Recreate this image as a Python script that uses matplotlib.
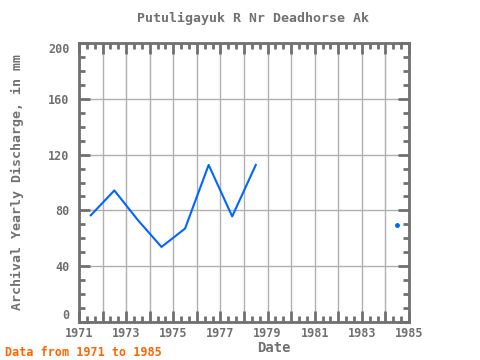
import matplotlib as mlt
mlt.use("Agg")
import matplotlib.pyplot as plt
import numpy as np
from matplotlib.ticker import MultipleLocator

# yearly values, plotted at mid-year; NaN = no record
years = [1971.5, 1972.5, 1973.5, 1974.5, 1975.5, 1976.5, 1977.5, 1978.5,
         1979.5, 1980.5, 1981.5, 1982.5, 1983.5, 1984.5]
discharge = [76.5, 94.3, 73, 53.8, 67, 112.6, 75.7, 112.6,
             np.nan, np.nan, np.nan, np.nan, np.nan, 69.5]
xTicks = [1971, 1973, 1975, 1977, 1979, 1981, 1983, 1985]
yTicks = [0, 40, 80, 120, 160, 200]

grey = "#707070"
font = "DejaVu Sans Mono"

fig = plt.figure(figsize=(4.8, 3.6), dpi=100)
ax = fig.add_axes([79 / 480, 1 - 322 / 360, 330 / 480, 279 / 360])

ax.plot(years, discharge, color="#0066ff", linewidth=1.5)
# lone point after the gap
ax.plot(years[-1:], discharge[-1:], "o", color="#0066ff", markersize=2.5)

ax.set_xlim(1971, 1985)
ax.set_ylim(0, 200)
ax.set_xticks(np.arange(1971, 1986))
ax.set_xticklabels([str(y) if y in xTicks else "" for y in range(1971, 1986)])
ax.set_yticks(yTicks)
ax.xaxis.set_minor_locator(MultipleLocator(1 / 3))
ax.yaxis.set_minor_locator(MultipleLocator(10))
ax.grid(color="#b0b0b0", linewidth=1, zorder=0)

ax.tick_params(which="both", direction="in", top=True, right=True,
               color=grey, width=2, labelcolor=grey, labelsize=8.5)
ax.tick_params(which="major", length=8)
ax.tick_params(which="minor", length=4)
ax.tick_params(axis="y", pad=7)
for lbl in ax.get_xticklabels() + ax.get_yticklabels():
    lbl.set_family(font)
    lbl.set_fontweight("bold")
ylbls = ax.get_yticklabels()
ylbls[0].set_va("bottom")
ylbls[-1].set_va("top")
for sp in ax.spines.values():
    sp.set_color(grey)
    sp.set_linewidth(2)

fig.text(253 / 480, 1 - 18 / 360, "Putuligayuk R Nr Deadhorse Ak", ha="center",
         va="center", family=font, fontsize=9.5, color=grey, fontweight="bold")
fig.text(17 / 480, 1 - 182 / 360, "Archival Yearly Discharge, in mm", rotation=90,
         ha="center", va="center", family=font, fontsize=9.5, color=grey,
         fontweight="bold")
fig.text(274 / 480, 1 - 348 / 360, "Date", ha="center", va="center", family=font,
         fontsize=10, color=grey, fontweight="bold")
fig.text(5 / 480, 1 - 352 / 360, "Data from 1971 to 1985", ha="left", va="center",
         family=font, fontsize=8.5, color="#ff6600", fontweight="bold")

plt.savefig("out.png", dpi=100)
plt.close()
